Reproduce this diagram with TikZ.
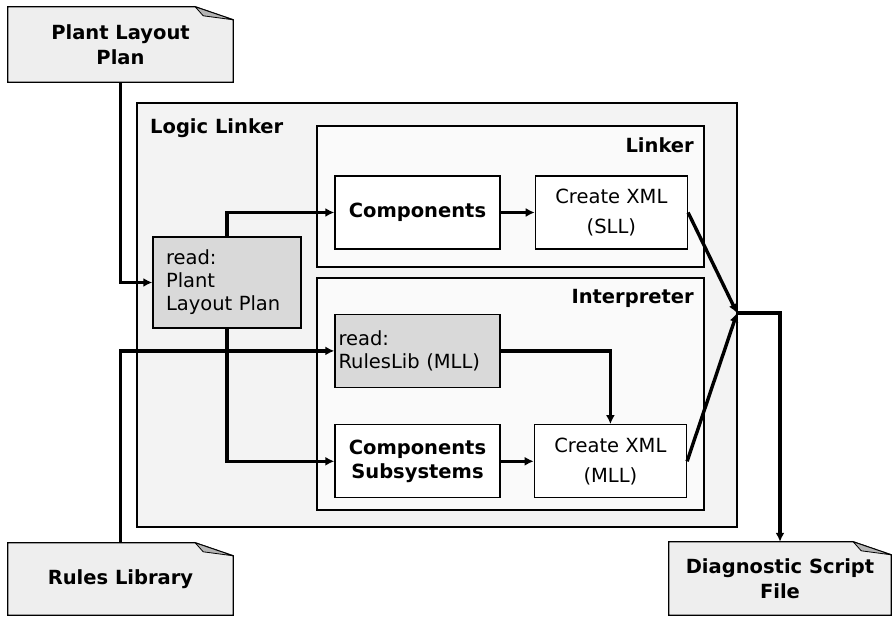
\documentclass[tikz,border=0pt]{standalone}
\usepackage{fontspec}
\setmainfont{DejaVu Sans}
\usetikzlibrary{positioning,arrows.meta,backgrounds}

\definecolor{notegray}{HTML}{EEEEEE}
\definecolor{foldgray}{HTML}{B4B4B4}
\definecolor{readgray}{HTML}{D9D9D9}
\definecolor{outergray}{HTML}{F3F3F3}
\definecolor{innergray}{HTML}{FAFAFA}

\begin{document}
\begin{tikzpicture}[x=1pt,y=-1pt,
  group/.style={draw, line width=2.2pt, fill=outergray},
  subgroup/.style={draw, line width=1.4pt, fill=innergray},
  grouplabel/.style={inner sep=0pt, font=\fontsize{19.5}{22}\selectfont\bfseries},
  block/.style={draw, line width=1.4pt, fill=white, minimum width=165pt,
    minimum height=73pt, align=center, font=\fontsize{19.5}{24}\selectfont\bfseries},
  xmlblock/.style={block, minimum width=152pt, font=\fontsize{19.5}{30}\selectfont},
  readblock/.style={block, fill=readgray, align=left, font=\fontsize{19.5}{23}\selectfont},
  note/.style={minimum height=73pt, align=center,
    font=\fontsize{19.5}{25}\selectfont\bfseries},
  link/.style={line width=3.4pt, -{Latex[length=9pt,width=9pt]}}]

  \useasboundingbox (0,0) rectangle (892,617);

  % Groups
  \node[group, minimum width=600pt, minimum height=424pt] (logic) at (437,315) {};
  \node[grouplabel, anchor=base west] (logic_t) at (150,134) {Logic Linker};

  \node[subgroup, minimum width=387pt, minimum height=141pt] (linker) at (510.5,196.5) {};
  \node[grouplabel, anchor=base east] (linker_t) at (694,153) {Linker};

  \node[subgroup, minimum width=387pt, minimum height=232pt] (interp) at (510.5,394) {};
  \node[grouplabel, anchor=base east] (interp_t) at (694,304) {Interpreter};

  % Documents
  \node[note, minimum width=225pt, minimum height=75pt] (plan) at (120.5,44.5) {Plant Layout\\Plan};
  \node[note, minimum width=225pt, minimum height=72pt] (rules) at (120.5,579) {Rules Library};
  \node[note, minimum width=222pt] (diag) at (780,578.5) {Diagnostic Script\\File};

  \begin{scope}[on background layer]
    \foreach \n in {plan,rules,diag} {
      \draw[line width=1.3pt, fill=notegray] (\n.north west) -- ([xshift=-38pt]\n.north east)
        -- ([yshift=-13pt]\n.north east) -- (\n.south east) -- (\n.south west) -- cycle;
      \draw[line width=0.8pt, fill=foldgray] ([xshift=-38pt]\n.north east)
        -- ([xshift=-30pt,yshift=-9pt]\n.north east) -- ([yshift=-13pt]\n.north east) -- cycle;
    }
  \end{scope}

  % Blocks
  \node[readblock, minimum width=148pt, minimum height=91pt, text width=122pt,
    inner xsep=13pt] (readplan) at (227,282.5) {read:\\Plant\\Layout Plan};
  \node[block] (comp) at (417.5,212.5) {Components};
  \node[xmlblock, right = 34pt of comp] (xmlsll) {Create XML\\(SLL)};
  \node[readblock, below = 64pt of comp, text width=158pt, inner xsep=3.5pt] (readrules)
    {read:\\RulesLib (MLL)};
  \node[block, below = 36pt of readrules] (compsub) {Components\\Subsystems};
  \node[xmlblock, right = 33pt of compsub] (xmlmll) {Create XML\\(MLL)};

  \coordinate (junc) at (737,313);

  % Edges
  \draw[link] (plan.south) |- (readplan.west);
  \draw[link] (readplan.north) |- (comp.west);
  \draw[link] (readplan.south) |- (compsub.west);
  \draw[link] (rules.north) |- (readrules.west);

  \draw[link] (comp) -- (xmlsll);
  \draw[link] (compsub) -- (xmlmll);
  \draw[link] (readrules.east) -| (xmlmll.north);

  \draw[link] (xmlsll.east) -- (junc);
  \draw[link] (xmlmll.east) -- (junc);
  \draw[link] (junc) -| (diag.north);
\end{tikzpicture}
\end{document}
